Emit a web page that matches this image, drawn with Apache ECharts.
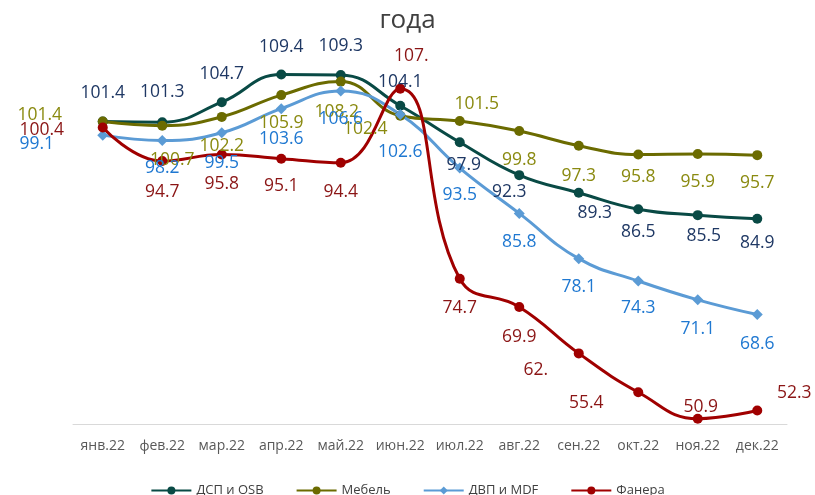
<!DOCTYPE html>
<html><head><meta charset="utf-8">
<script src="https://cdn.jsdelivr.net/npm/echarts@6/dist/echarts.min.js"></script>
<style>html,body{margin:0;padding:0;background:#fff}#c{width:815px;height:495px}</style>
</head><body><div id="c"></div>
<script>
const categories = ['янв.22','фев.22','мар.22','апр.22','май.22','июн.22','июл.22','авг.22','сен.22','окт.22','ноя.22','дек.22'];
const dsp    = [101.4, 101.3, 104.7, 109.4, 109.3, 104.1, 97.9, 92.3, 89.3, 86.5, 85.5, 84.9];
const mebel  = [101.4, 100.7, 102.2, 105.9, 108.2, 102.4, 101.5, 99.8, 97.3, 95.8, 95.9, 95.7];
const dvp    = [99.1, 98.2, 99.5, 103.6, 106.6, 102.6, 93.5, 85.8, 78.1, 74.3, 71.1, 68.6];
const fanera = [100.4, 94.7, 95.8, 95.1, 94.4, 107.0, 74.7, 69.9, 62.0, 55.4, 50.9, 52.3];
const seriesNames = ['ДСП и OSB', 'Мебель', 'ДВП и MDF', 'Фанера'];

// label offsets (style only)
const offDsp = [[0,-29],[0,-30],[0,-28],[0,-28],[0,-29],[0,-24],[4,23],[-10,17],[16,20],[0,23],[6,21],[0,24]];
const offMeb = [[-63,-7],[10,34],[0,29],[0,28],[-4,30],[-35,13],[17,-17],[0,29],[0,30],[0,22],[0,28],[0,28]];
const offDvp = [[-66,9],[0,28],[0,30],[0,30],[0,28],[0,37],[0,27],[0,29],[0,28],[0,27],[0,29],[0,29]];
const offFan = [[-61,3],[0,31],[0,29],[0,27],[0,29],[11,-33],[0,29],[0,30],[-43,17],[-52,11],[3,-12],[37,-17]];

const fmt = p => { const v = p.value; return Number.isInteger(v) ? v + '.' : v.toFixed(1); };
function mk(vals, offs) { return vals.map((v,i)=>({value:v, label:{offset:offs[i]}})); }
const FONT = 'Open Sans';
function ser(name, vals, offs, lineColor, labelColor, symbol, symSize) {
  return {
    name, type:'line', smooth:0.45, data: mk(vals, offs),
    symbol, symbolSize: symSize, showAllSymbol:true,
    lineStyle:{color:lineColor, width:3}, itemStyle:{color:lineColor},
    label:{show:true, position:'inside', formatter: fmt, color: labelColor, fontSize:17.5, fontFamily:FONT, align:'center', verticalAlign:'middle'},
    emphasis:{disabled:true}, z: 2
  };
}
const chart = echarts.init(document.getElementById('c'), null, {renderer:'canvas'});
chart.setOption({
  animation:false,
  backgroundColor:'#fff',
  title:{text:'года', left:'center', top:3, textStyle:{fontSize:26, fontWeight:'normal', color:'#404040', fontFamily:FONT}},
  grid:{left:73, right:28, top:71, bottom:71},
  legend:{bottom:-7, itemWidth:40, itemHeight:10, itemGap:32, textStyle:{fontSize:13, color:'#404040', fontFamily:FONT}, data:seriesNames},
  xAxis:{type:'category', data:categories, boundaryGap:true,
    axisLine:{lineStyle:{color:'#d9d9d9', width:1}}, axisTick:{show:false},
    axisLabel:{color:'#595959', fontSize:14, fontFamily:FONT, margin:15, interval:0}},
  yAxis:{type:'value', min:50, max:110, show:false, splitLine:{show:false}},
  series:[
    ser(seriesNames[0], dsp, offDsp, '#094a45', '#1f3864', 'circle', 10),
    ser(seriesNames[1], mebel, offMeb, '#6b6b00', '#8a8a10', 'circle', 10),
    ser(seriesNames[2], dvp, offDvp, '#5b9bd5', '#1f78d1', 'diamond', 11),
    ser(seriesNames[3], fanera, offFan, '#a00000', '#8b1515', 'circle', 10)
  ]
});
</script></body></html>
